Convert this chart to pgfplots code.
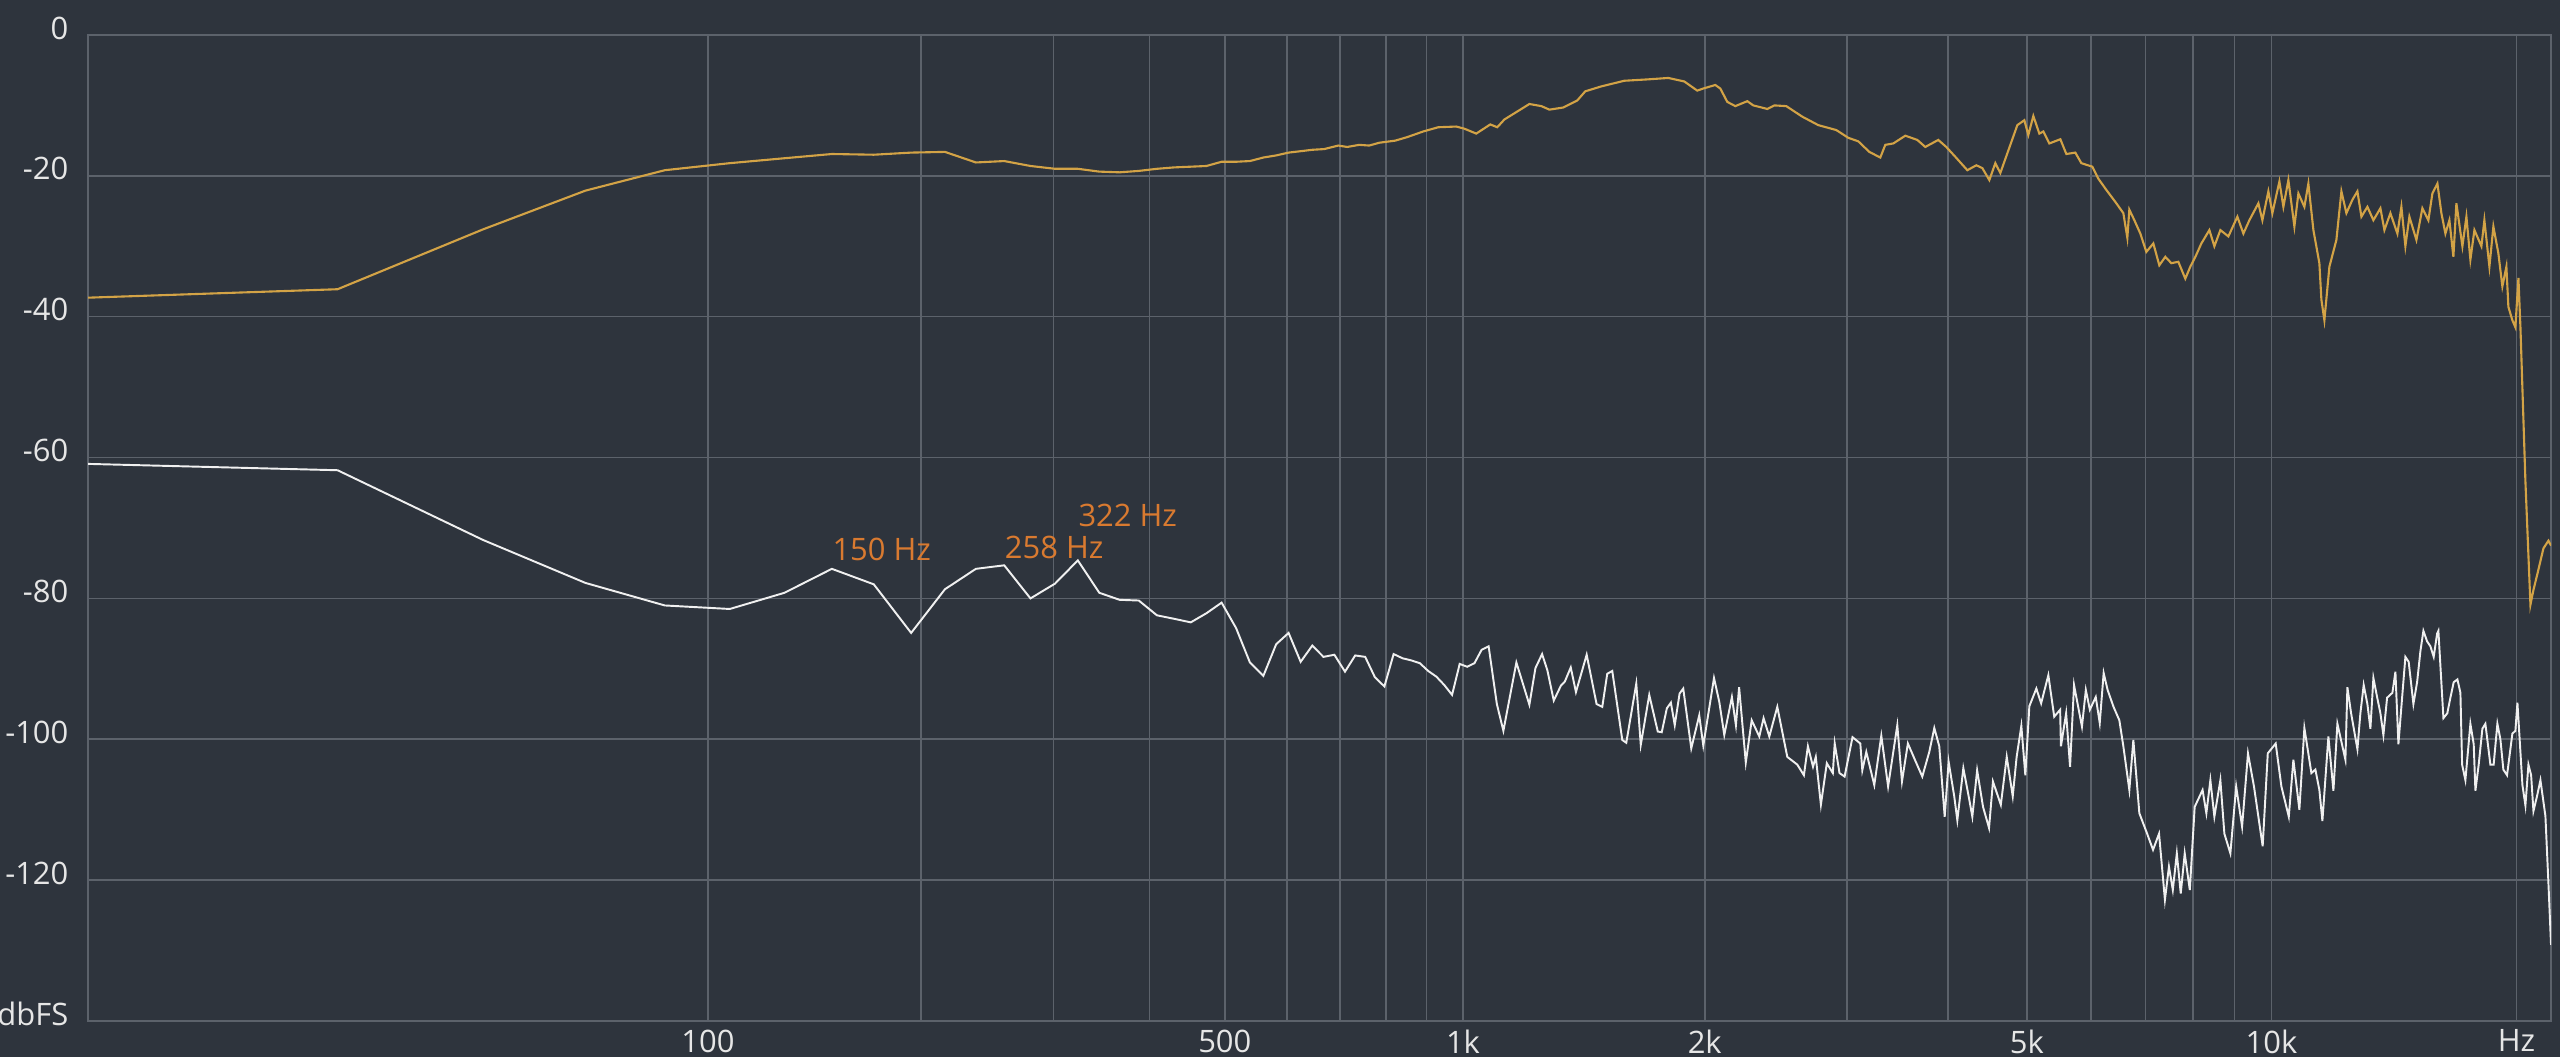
\documentclass[border=0pt]{standalone}
\usepackage{fontspec}
\setmainfont{Open Sans}
\usepackage{pgfplots}
\pgfplotsset{compat=1.18}
\usepackage{pgfplotstable}
\usetikzlibrary{backgrounds}

\definecolor{bg}{HTML}{2E343D}
\definecolor{gridc}{HTML}{5C626B}
\definecolor{amber}{HTML}{D3A346}
\definecolor{trace}{HTML}{F0F0F0}
\definecolor{peak}{HTML}{D97A30}
\definecolor{labelc}{HTML}{E6E6E6}

% frequency in Hz, level in dBFS
\pgfplotstableread{
f db
0 -37.3
21.5 -36.1
43.1 -27.6
64.6 -22.1
86.1 -19.2
107.7 -18.2
129.2 -17.5
150.7 -16.9
172.3 -17.0
193.8 -16.7
215.3 -16.6
236.9 -18.1
258.4 -17.9
279.9 -18.6
301.5 -19.0
323.0 -19.0
344.5 -19.4
366.1 -19.5
387.6 -19.3
409.1 -19.0
430.7 -18.8
452.2 -18.7
473.7 -18.6
495.3 -18.0
516.8 -18.0
538.3 -17.9
559.9 -17.4
581.4 -17.1
602.9 -16.7
624.5 -16.5
646.0 -16.3
668.9 -16.2
696.8 -15.7
715.3 -15.9
740.6 -15.6
762.4 -15.7
784.9 -15.3
822.2 -15.0
851.2 -14.5
891.5 -13.7
931.0 -13.1
980.7 -13.0
1003.6 -13.3
1039 -14.0
1081.8 -12.7
1103.8 -13.1
1126.6 -12.0
1210.6 -9.8
1253.1 -10.1
1282.2 -10.6
1334.3 -10.3
1389 -9.3
1421.2 -8.0
1488 -7.3
1589.3 -6.5
1702.2 -6.3
1802.4 -6.1
1886.8 -6.6
1958.1 -7.9
1991.9 -7.6
2061.3 -7.1
2091 -7.6
2133.1 -9.5
2182.4 -10.1
2258.4 -9.4
2297.3 -10.0
2390.8 -10.5
2439 -10.0
2523.8 -10.1
2641.5 -11.6
2764.6 -12.8
2910 -13.5
3011 -14.6
3097.9 -15.1
3196.3 -16.6
3298 -17.4
3345.2 -15.6
3422.1 -15.4
3540.8 -14.3
3663.6 -14.9
3747.8 -15.9
3888.8 -14.9
3978.2 -15.9
4081.3 -17.3
4222.7 -19.2
4332 -18.5
4406.5 -18.9
4494.9 -20.6
4572.1 -18.2
4637.3 -19.6
4730.3 -16.8
4866.5 -12.8
4964.1 -12.1
5020.8 -14.2
5092.6 -11.5
5180 -14.0
5239.1 -13.7
5329 -15.4
5497.9 -14.8
5592.2 -16.9
5736.8 -16.7
5835.3 -18.2
6020.1 -18.7
6123.3 -20.4
6263.9 -22.0
6425.7 -23.7
6573.1 -25.3
6648.1 -28.8
6685.9 -24.8
6781.3 -26.3
6897.6 -28.2
7015.8 -30.8
7156.3 -29.6
7279 -32.7
7403.8 -31.5
7530.8 -32.4
7681.5 -32.2
7835.6 -34.6
7947.3 -32.9
8060.6 -31.5
8198.7 -29.6
8386.6 -27.7
8506.2 -30.0
8652.1 -27.7
8850.2 -28.6
9078.7 -25.8
9234.4 -28.2
9392.5 -26.3
9635 -23.9
9744.8 -26.3
9911.6 -22.2
10024.7 -25.3
10225.4 -20.8
10341.9 -24.4
10489.1 -20.6
10668.9 -27.2
10790.3 -22.5
10975 -24.4
11100.1 -21.1
11258.4 -27.7
11451 -32.4
11516.3 -37.6
11614.3 -40.5
11780 -32.9
12015.6 -29.1
12187 -22.2
12360.5 -25.3
12572.2 -23.4
12751.3 -22.2
12896.5 -25.8
13117.3 -24.4
13342.1 -26.3
13609.1 -24.6
13764 -27.7
13999.6 -25.3
14279.5 -28.2
14442 -24.4
14606.4 -30.0
14772.7 -25.8
15068.1 -29.1
15326.2 -24.6
15588.5 -26.3
15766.1 -22.5
15990.6 -21.1
16172.7 -25.3
16356.6 -28.2
16542.6 -26.3
16730.8 -31.5
16873.4 -23.9
17162.3 -30.0
17357.5 -25.8
17555.3 -31.9
17754.8 -27.7
18110.1 -30.0
18264.4 -26.3
18524.5 -32.9
18735.3 -27.2
19001.9 -31.0
19218.1 -35.7
19436.7 -32.9
19546.9 -38.6
19769.4 -40.5
19937.8 -41.5
20107.5 -34.5
20222 -41.5
20509.8 -63.4
20802.1 -80.9
20979.4 -78.8
21217.8 -76.5
21581.1 -72.9
21888.1 -71.8
22050 -72.5
}\amberdata

\pgfplotstableread{
f db
0 -60.9
21.5 -61.8
43.1 -71.7
64.6 -77.8
86.1 -81.0
107.7 -81.5
129.2 -79.2
150.7 -75.8
172.3 -78.0
193.8 -84.9
215.3 -78.7
236.9 -75.8
258.4 -75.3
279.9 -80.0
301.5 -77.9
323.0 -74.6
344.5 -79.2
366.1 -80.2
387.6 -80.3
409.1 -82.4
430.7 -82.9
452.2 -83.4
473.7 -82.1
495.3 -80.6
516.8 -84.2
538.3 -89.1
559.9 -91.0
581.4 -86.5
602.9 -84.9
624.5 -89.0
646.0 -86.7
667.5 -88.3
689.1 -88.0
710.6 -90.4
732.1 -88.1
753.7 -88.3
775.2 -91.2
796.7 -92.5
818.3 -87.9
839.8 -88.5
861.3 -88.8
882.9 -89.2
904.4 -90.3
925.9 -91.1
947.5 -92.3
969.0 -93.7
990.5 -89.3
1012.1 -89.7
1033.6 -89.2
1055.1 -87.3
1076.7 -86.8
1102.5 -95.0
1123.4 -98.8
1166.2 -89.1
1210.6 -95.1
1231.7 -89.9
1255.6 -87.9
1274.8 -90.2
1298.4 -94.5
1325.1 -92.4
1340.4 -91.8
1363.3 -89.8
1383.8 -93.3
1426.9 -88.0
1468.1 -95.0
1492.2 -95.4
1513.7 -90.7
1535.6 -90.3
1580.2 -100.1
1598.4 -100.5
1644.8 -92.1
1666.1 -100.8
1707.1 -93.7
1749.1 -98.9
1769.2 -99.0
1795.2 -95.6
1815.9 -94.8
1836.2 -98.0
1861.6 -93.5
1881.4 -92.8
1924.9 -101.3
1969.3 -96.6
1991.9 -100.9
2053.7 -91.3
2085 -94.7
2115 -99.4
2161.3 -94.0
2186.2 -98.0
2206.2 -92.6
2248.7 -103.3
2286.8 -97.3
2336.9 -99.6
2365.7 -97.0
2404.5 -99.6
2459.9 -95.4
2531 -102.5
2604.2 -103.6
2653.6 -105.1
2684 -101.0
2723.2 -103.9
2745 -102.5
2785.2 -109.3
2832.4 -103.4
2881.2 -104.8
2896.8 -100.6
2936.6 -104.8
2979.5 -105.3
3047.2 -99.7
3115.6 -100.6
3133.4 -104.4
3169.2 -101.8
3242.1 -106.5
3307.4 -99.5
3371.9 -106.7
3461.2 -98.0
3507.7 -106.0
3567 -100.6
3648 -103.2
3716 -105.3
3790.7 -101.8
3844.9 -98.4
3899.9 -101.0
3960.2 -111.0
4004.3 -103.2
4068.5 -108.1
4104.5 -111.5
4175.1 -104.1
4246.7 -108.6
4283.1 -111.0
4341.9 -104.4
4415.3 -109.6
4491.1 -112.6
4541.2 -106.0
4643.9 -109.3
4722.3 -102.5
4803.4 -108.1
4856.8 -102.5
4922.1 -98.1
4978.2 -105.1
5035.1 -95.3
5136.1 -92.8
5206.5 -94.9
5313.9 -90.9
5403.5 -96.8
5494.7 -95.8
5507.3 -101.0
5589 -96.3
5651.3 -103.9
5715.6 -92.3
5845.3 -98.2
5910.2 -93.0
5977.6 -95.8
6078.5 -94.0
6147.7 -97.7
6216.1 -90.6
6286.9 -93.0
6393.1 -95.4
6498.9 -97.3
6573.1 -101.0
6685.9 -107.2
6762.2 -100.1
6878.1 -110.5
7031.7 -113.4
7150.2 -115.7
7272.8 -113.4
7395.3 -122.8
7479.7 -118.1
7563 -121.4
7649 -116.2
7734 -121.9
7822.2 -116.2
7936 -121.4
8044.6 -109.6
8226.6 -107.2
8315.7 -110.5
8410.4 -105.8
8506.2 -111.0
8652.1 -105.8
8750.6 -113.4
8900.6 -116.2
9048 -106.7
9200.6 -112.4
9355.6 -102.0
9515.7 -106.7
9753.1 -115.2
9894.9 -102.0
10118.8 -100.6
10283.5 -106.7
10501.2 -111.0
10638.8 -102.9
10820.9 -110.0
10975 -98.4
11194.8 -104.8
11322.2 -104.3
11451 -107.2
11548.9 -111.6
11746.5 -99.6
11914.2 -107.3
12049.7 -97.8
12325.6 -102.9
12395.5 -92.6
12526 -96.3
12751.3 -101.4
12860 -96.3
12981 -92.3
13117.3 -95.0
13229 -98.5
13342.1 -91.3
13482 -94.0
13609 -96.3
13725.1 -99.4
13869 -94.1
14079 -93.4
14199 -90.4
14320 -100.7
14471 -94.1
14606.4 -88.3
14743 -89.0
14940.9 -95.0
15098 -91.9
15239.8 -87.5
15369.6 -84.6
15531 -86.1
15677.1 -86.8
15824 -88.3
15977 -85.0
16035.8 -84.6
16264.4 -97.0
16445 -96.3
16589.4 -94.1
16745 -91.9
16921.1 -91.5
17066 -93.4
17148 -103.6
17308.5 -105.8
17555.3 -97.8
17720 -100.7
17805.1 -107.3
17972 -103.6
18161.4 -98.5
18316 -97.8
18577 -103.6
18751 -103.6
18948.3 -97.8
19110 -100.0
19272.4 -104.3
19475 -105.1
19769.4 -99.2
19938 -98.8
20050.8 -94.8
20336.6 -106.5
20510 -109.4
20684.5 -103.6
20843 -105.1
20979.4 -110.2
21200 -108.0
21398.8 -105.8
21703.3 -110.9
21888.1 -120.4
22050 -129.2
}\whitedata

\begin{document}
\begin{tikzpicture}
\begin{axis}[name=ax, scale only axis, width=24.63cm, height=9.86cm,
  xmode=log, log basis x=10, xmin=21, xmax=22071, ymin=-140, ymax=0,
  % the display offsets frequency by one bin before taking the log
  xtick={121,521,1021,2021,5021,10021,20021},
  xticklabels={100,500,1k,2k,5k,10k,Hz},
  minor xtick={221,321,421,621,721,821,921,3021,4021,6021,7021,8021,9021},
  ytick={-140,-120,...,0},
  yticklabels={dbFS,-120,-100,-80,-60,-40,-20,0},
  xmajorgrids, xminorgrids, ymajorgrids,
  grid style={gridc, line width=0.45pt},
  minor grid style={gridc, line width=0.45pt},
  axis line style={gridc, line width=0.45pt},
  major tick length=0pt, minor tick length=0pt,
  tick style={draw=none},
  ticklabel style={font=\fontsize{8.8}{10.5}\selectfont, text=labelc, inner sep=0pt},
  xticklabel style={anchor=north, yshift=-0.08cm},
  yticklabel style={anchor=east, xshift=-0.19cm, yshift=0.07cm},
]
\addplot[amber, line width=0.6pt] table[x expr=\thisrow{f}+21, y=db] {\amberdata};
\addplot[trace, line width=0.55pt] table[x expr=\thisrow{f}+21, y=db] {\whitedata};
\node[anchor=south west, inner sep=0pt, text=peak, font=\fontsize{8.8}{10.5}\selectfont, yshift=0.07cm] at (axis cs:171.7,-75.8) {150 Hz};
\node[anchor=south west, inner sep=0pt, text=peak, font=\fontsize{8.8}{10.5}\selectfont, yshift=0.06cm] at (axis cs:279.4,-75.3) {258 Hz};
\node[anchor=south west, inner sep=0pt, text=peak, font=\fontsize{8.8}{10.5}\selectfont, yshift=0.33cm] at (axis cs:344.0,-74.6) {322 Hz};
\end{axis}
\pgfresetboundingbox
\path[use as bounding box] ([xshift=-0.88cm,yshift=-0.36cm]ax.south west) rectangle ([xshift=0.09cm,yshift=0.35cm]ax.north east);
\begin{scope}[on background layer]
\fill[bg] ([xshift=-0.88cm,yshift=-0.36cm]ax.south west) rectangle ([xshift=0.09cm,yshift=0.35cm]ax.north east);
\end{scope}
\end{tikzpicture}
\end{document}
